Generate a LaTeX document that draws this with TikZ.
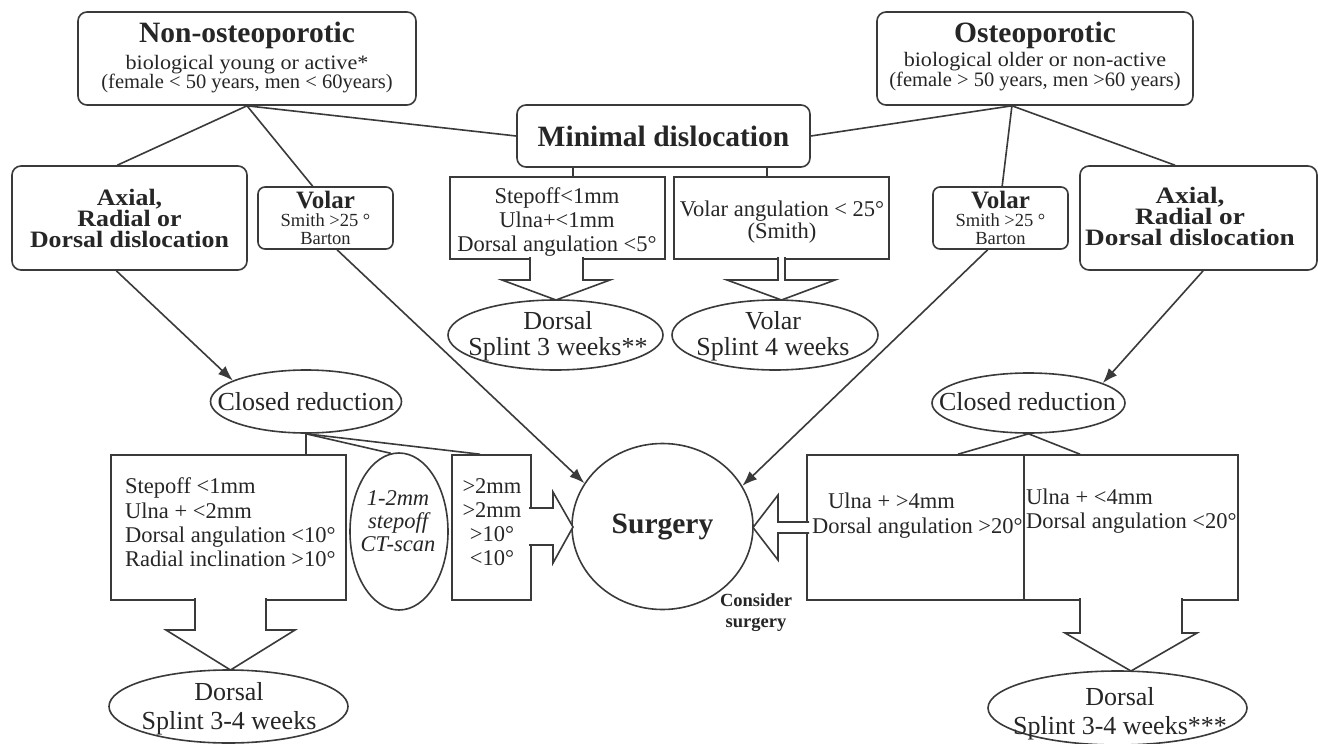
\documentclass[tikz,border=0pt]{standalone}
\usepackage{fontspec}
\setmainfont{Liberation Serif}
\newfontfamily\widefont{Liberation Serif}[FakeStretch=1.08]
\newfontfamily\axfont{Liberation Serif}[FakeStretch=1.1]
\newfontfamily\axwfont{Liberation Serif}[FakeStretch=1.16]
\usetikzlibrary{shapes.geometric,arrows.meta,calc}
\definecolor{ln}{HTML}{3A3A3A}
\definecolor{tx}{HTML}{262626}
\newcommand{\myfs}[2]{\fontsize{#1}{#2}\selectfont\lineskiplimit=-100pt\relax}
\begin{document}
\begin{tikzpicture}[x=1pt,y=-1pt,
  rbox/.style={draw=ln,line width=1.6pt,rounded corners=9pt,fill=white,inner sep=0pt,text=tx,align=center},
  sbox/.style={draw=ln,line width=1.6pt,fill=white,inner sep=0pt},
  ell/.style={ellipse,draw=ln,line width=1.6pt,fill=white,inner sep=0pt},
  txt/.style={inner sep=0pt,text=tx,align=center},
  txtl/.style={inner sep=0pt,text=tx,align=left,anchor=west},
  conn/.style={draw=ln,line width=1.6pt},
  arr/.style={conn,-{Latex[length=15pt,width=11pt]}},
  barrow/.style={draw=ln,line width=1.6pt,fill=white,line join=miter,miter limit=10},
  ttl/.style={font=\myfs{29.5}{29.5}\bfseries},
  boxtxt/.style={font=\myfs{22.5}{24}},
  elltxt/.style={font=\myfs{26}{26}},
  axtxt/.style={font=\axfont\myfs{23.5}{21}\bfseries},
]
\useasboundingbox (0,0) rectangle (1318,744);
\fill[white] (0,0) rectangle (1318,744);

% ---- top boxes
\node[rbox, minimum width=338pt, minimum height=93pt] (nonost) at (247,58.5) {};
\node[rbox, minimum width=316pt, minimum height=93pt] (ost) at (1035,58.5) {};
\node[rbox, minimum width=293pt, minimum height=62pt, ttl] (mindis) at (663.5,136) {Minimal dislocation};
\node[rbox, minimum width=235pt, minimum height=104pt, axtxt] (axL) at (129.5,218) {Axial,\\Radial or\\Dorsal dislocation};
\node[rbox, minimum width=237pt, minimum height=104pt] (axR) at (1198.5,218) {};
\node[rbox, minimum width=135pt, minimum height=62pt, rounded corners=7pt, font=\myfs{18.5}{17.5}] (volL) at (325.5,218) {{\myfs{25}{25}\bfseries Volar}\\[0.5pt] Smith >25 °\\ Barton};
\node[rbox, minimum width=135pt, minimum height=62pt, rounded corners=7pt, font=\myfs{18.5}{17.5}] (volR) at (1000.5,218) {{\myfs{25}{25}\bfseries Volar}\\[0.5pt] Smith >25 °\\ Barton};

% ---- middle boxes
\node[sbox, minimum width=215pt, minimum height=82pt] (step1) at (557.5,218) {};
\node[sbox, minimum width=215pt, minimum height=82pt] (vang) at (781.5,218) {};
\node[ell, minimum width=215pt, minimum height=70pt] (dors3) at (555.5,335) {};
\node[ell, minimum width=206pt, minimum height=70pt] (vol4) at (775,335) {};

% ---- lower part
\node[ell, minimum width=191pt, minimum height=63pt] (crL) at (306,401.5) {};
\node[ell, minimum width=193pt, minimum height=60pt] (crR) at (1028.5,403) {};
\node[sbox, minimum width=235pt, minimum height=145pt] (lbox) at (228.5,527.5) {};
\node[sbox, minimum width=79pt, minimum height=145pt] (gbox) at (491.5,527.5) {};
\node[ell, minimum width=98pt, minimum height=157pt] (ct) at (399,531.5) {};
\node[ell, minimum width=181pt, minimum height=166pt] (surg) at (662.5,526.5) {};
\node[sbox, minimum width=217pt, minimum height=145pt] (rboxL) at (915.5,527.5) {};
\node[sbox, minimum width=214pt, minimum height=145pt] (rboxR) at (1131,527.5) {};
\node[ell, minimum width=239pt, minimum height=73pt] (dorsL) at (228.5,706.5) {};
\node[ell, minimum width=259pt, minimum height=74pt] (dorsR) at (1117.5,708) {};

% ---- connectors
\draw[conn] (nonost.south) -- (axL.103.5);
\draw[conn] (nonost.south) -- (volL.112);
\draw[conn] (nonost.south) -- (mindis.west);
\draw[conn] (ost.244.7) -- (mindis.east);
\draw[conn] (ost.244.7) -- (volR.87);
\draw[conn] (ost.244.7) -- (axR.114);
\draw[conn] ($(mindis.south)+(-90.5,0)$) -- ($(step1.north)+(15.5,0)$);
\draw[conn] ($(mindis.south)+(103.5,0)$) -- ($(vang.north)+(-14.5,0)$);
\draw[arr] (axL.256.5) -- (crL.164);
\draw[arr] (volL.290.4) -- (surg.151);
\draw[arr] (volR.248) -- (surg.27);
\draw[arr] (axR.275) -- (crR.15);
\draw[conn] (crL.south) -- (crL.south |- lbox.north);
\draw[conn] (crL.south) -- (ct.96);
\draw[conn] (crL.south) -- ($(gbox.north)+(-11.5,0)$);
\draw[conn] (crR.south) -- ($(rboxL.north)+(42.5,0)$);
\draw[conn] (crR.south) -- ($(rboxR.north)+(-51,0)$);

% ---- block arrows
\draw[barrow] (530,257) -- (530,280) -- (502,280) -- (556,300) -- (610,280) -- (583,280) -- (583,257);
\draw[barrow] (778,257) -- (778,280) -- (727,280) -- (781.5,300) -- (835,280) -- (785,280) -- (785,257);
\draw[barrow] (195,598) -- (195,630) -- (166,630) -- (230.5,670) -- (295,630) -- (266,630) -- (266,598);
\draw[barrow] (529,508) -- (553,508) -- (553,492) -- (573,527) -- (553,563) -- (553,545) -- (529,545);
\draw[barrow] (809,522) -- (778,522) -- (778,495) -- (753,527.5) -- (778,560) -- (778,533) -- (809,533);
\draw[barrow] (1080,598) -- (1080,633) -- (1065,633) -- (1131,671) -- (1197,633) -- (1182,633) -- (1182,598);

% ---- texts
\node[txt, font=\myfs{20.5}{19}] (nonostT) at (247,57.5) {{\myfs{29.5}{29.5}\bfseries Non-osteoporotic}\\[8.4pt] {\widefont biological young or active*}\\ (female < 50 years, men < 60years)};
\node[txt, font=\myfs{20.5}{20}] (ostT) at (1035,56.5) {{\myfs{29.5}{29.5}\bfseries Osteoporotic}\\[4.4pt] {\widefont biological older or non-active}\\ (female > 50 years, men >60 years)};
\node[txt, font=\axwfont\myfs{23.5}{21}\bfseries] (axRT) at (1190,216.4) {Axial,\\Radial or\\Dorsal dislocation};
\node[txt, boxtxt] (step1T) at (557,222) {Stepoff<1mm\\Ulna+<1mm\\Dorsal angulation <5°};
\node[txt, boxtxt, font=\myfs{22.5}{22}] (vangT) at (782,222) {Volar angulation < 25°\\(Smith)};
\node[txt, elltxt] (dors3T) at (558,336.3) {Dorsal\\Splint 3 weeks**};
\node[txt, elltxt] (vol4T) at (773,336) {Volar\\Splint 4 weeks};
\node[txt, elltxt] (crLT) at (306,402) {Closed reduction};
\node[txt, elltxt] (crRT) at (1027.5,402) {Closed reduction};
\node[txtl, font=\myfs{22.5}{24.3}] (lboxT) at (125,522.5) {Stepoff <1mm\\Ulna + <2mm\\Dorsal angulation <10°\\Radial inclination >10°};
\node[txt, font=\myfs{22.5}{23}\itshape] (ctT) at (398,521) {1-2mm\\stepoff\\CT-scan};
\node[txt, font=\myfs{22.5}{24}] (gboxT) at (492,522) {>2mm\\>2mm\\>10°\\<10°};
\node[txt, ttl] (surgT) at (662.5,527) {Surgery};
\node[txt, font=\myfs{18.5}{21}\bfseries] (consT) at (756,613) {Consider\\surgery};
\node[txtl, font=\myfs{22.5}{25}] (rboxLT) at (812,515.5) {\hspace*{16pt}Ulna + >4mm\\Dorsal angulation >20°};
\node[txtl, font=\myfs{22.5}{24}] (rboxRT) at (1026,511) {Ulna + <4mm\\Dorsal angulation <20°};
\node[txt, font=\myfs{26}{29}] (dorsLT) at (229,708.8) {Dorsal\\Splint 3-4 weeks};
\node[txt, font=\myfs{26}{29}] (dorsRT) at (1120,713.8) {Dorsal\\Splint 3-4 weeks***};
\end{tikzpicture}
\end{document}
